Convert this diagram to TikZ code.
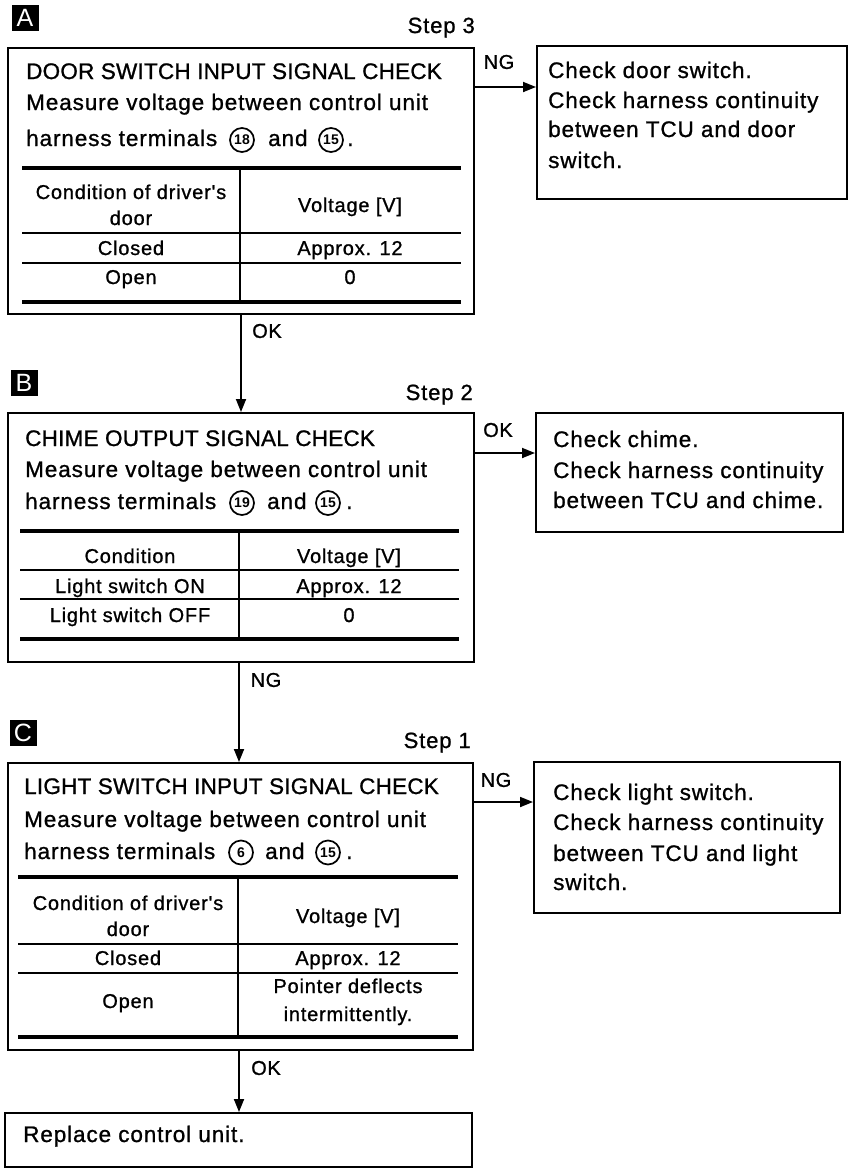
\documentclass[tikz,border=0pt]{standalone}
\usepackage{fontspec}
\setmainfont{Liberation Sans}
\newfontfamily\mainls[LetterSpace=4,FakeBold=1]{Liberation Sans}
\newfontfamily\titls[LetterSpace=1,FakeBold=1]{Liberation Sans}
\newfontfamily\tabls[LetterSpace=4,FakeBold=1]{Liberation Sans}
\newfontfamily\lblls[LetterSpace=3,FakeBold=1]{Liberation Sans}
\usetikzlibrary{arrows.meta}
\tikzset{
  box/.style={draw, line width=2pt, inner sep=0pt, rectangle},
  txt/.style={anchor=base west, inner sep=0pt, font=\mainls\fontsize{22.5}{26}\selectfont},
  titletxt/.style={anchor=base west, inner sep=0pt, font=\titls\fontsize{22.5}{26}\selectfont},
  steplbl/.style={anchor=base east, inner sep=0pt, font=\mainls\fontsize{22}{26}\selectfont},
  tab/.style={anchor=base, inner sep=0pt, font=\tabls\fontsize{20}{22}\selectfont},
  lbl/.style={inner sep=0pt, font=\lblls\fontsize{20}{22}\selectfont},
  cnum/.style={circle, draw, line width=1.7pt, minimum size=24pt, inner sep=0pt, font=\bfseries\fontsize{14}{14}\selectfont},
  markerbox/.style={fill=black, text=white, minimum width=27pt, minimum height=26pt, inner sep=0pt, font=\fontsize{25}{25}\selectfont},
  thickrule/.style={line width=4.5pt},
  thinrule/.style={line width=2pt},
  arr/.style={line width=1.8pt, -{Triangle[length=13pt,width=10pt]}}
}
\begin{document}
\begin{tikzpicture}[x=1pt,y=-1pt]
\useasboundingbox (0,0) rectangle (849,1168);

% ---------- A ----------
\node[markerbox] (mA) at (25,18) {A};
\node[steplbl] (sA) at (475,33) {Step 3};
\node[box, minimum width=466pt, minimum height=266pt] (A) at (241,181) {};
\node[titletxt] (a1) at (26,79) {DOOR SWITCH INPUT SIGNAL CHECK};
\node[txt] (a2) at (26,110) {Measure voltage between control unit};
\node[txt] (a3) at (26,146) {harness terminals};
\node[cnum] (a3c1) at (242,140) {18};
\node[txt] (a3and) at (268,146) {and};
\node[cnum] (a3c2) at (331,140) {15};
\node[txt] (a3dot) at (347,146) {.};
\draw[thickrule] (22,168) -- (461,168);
\draw[thinrule] (22,233) -- (461,233);
\draw[thinrule] (22,263) -- (461,263);
\draw[thickrule] (22,302) -- (461,302);
\draw[thinrule] (240,168) -- (240,302);
\node[tab] (ah1) at (131,199) {Condition of driver's};
\node[tab] (ah2) at (131,225) {door};
\node[tab] (ah3) at (350,212) {Voltage [V]};
\node[tab] (ar1) at (131,255) {Closed};
\node[tab] (ar2) at (350,255) {Approx. 12};
\node[tab] (ar3) at (131,284) {Open};
\node[tab] (ar4) at (350,284) {0};

\node[box, minimum width=310pt, minimum height=153pt] (RA) at (692,122.5) {};
\node[txt] (ra1) at (548,78) {Check door switch.};
\node[txt] (ra2) at (548,108) {Check harness continuity};
\node[txt] (ra3) at (548,137) {between TCU and door};
\node[txt] (ra4) at (548,168) {switch.};
\coordinate (yA) at (0,87);
\draw[arr] (A.east |- yA) -- (RA.west |- yA);
\node[lbl] (ngA) at (499,62) {NG};

% ---------- B ----------
\node[markerbox] (mB) at (24,383) {B};
\node[steplbl] (sB) at (473,400) {Step 2};
\node[box, minimum width=466pt, minimum height=249pt] (B) at (241,537.5) {};
\node[titletxt] (b1) at (25,446) {CHIME OUTPUT SIGNAL CHECK};
\node[txt] (b2) at (25,477) {Measure voltage between control unit};
\node[txt] (b3) at (25,509) {harness terminals};
\node[cnum] (b3c1) at (242,503) {19};
\node[txt] (b3and) at (267,509) {and};
\node[cnum] (b3c2) at (328,503) {15};
\node[txt] (b3dot) at (346,509) {.};
\draw[thickrule] (20,531) -- (459,531);
\draw[thinrule] (20,570) -- (459,570);
\draw[thinrule] (20,599) -- (459,599);
\draw[thickrule] (20,639) -- (459,639);
\draw[thinrule] (239,531) -- (239,639);
\node[tab] (bh1) at (130,563) {Condition};
\node[tab] (bh2) at (349,563) {Voltage [V]};
\node[tab] (br1) at (130,593) {Light switch ON};
\node[tab] (br2) at (349,593) {Approx. 12};
\node[tab] (br3) at (130,622) {Light switch OFF};
\node[tab] (br4) at (349,622) {0};

\node[box, minimum width=307pt, minimum height=119pt] (RB) at (689.5,472.5) {};
\node[txt] (rb1) at (553,447) {Check chime.};
\node[txt] (rb2) at (553,478) {Check harness continuity};
\node[txt] (rb3) at (553,508) {between TCU and chime.};
\coordinate (yB) at (0,453);
\draw[arr] (B.east |- yB) -- (RB.west |- yB);
\node[lbl] (okB) at (498,430) {OK};

\draw[arr] (A.south) -- (B.north);
\node[lbl] (okA) at (267,331) {OK};

% ---------- C ----------
\node[markerbox] (mC) at (23,733) {C};
\node[steplbl] (sC) at (471,748) {Step 1};
\node[box, minimum width=465pt, minimum height=287pt] (C) at (240.5,906.5) {};
\node[titletxt] (c1) at (24,794) {LIGHT SWITCH INPUT SIGNAL CHECK};
\node[txt] (c2) at (24,827) {Measure voltage between control unit};
\node[txt] (c3) at (24,859) {harness terminals};
\node[cnum] (c3c1) at (241,852.5) {6};
\node[txt] (c3and) at (265,859) {and};
\node[cnum] (c3c2) at (328,852.5) {15};
\node[txt] (c3dot) at (346,859) {.};
\draw[thickrule] (18,877) -- (458,877);
\draw[thinrule] (18,944) -- (458,944);
\draw[thinrule] (18,973) -- (458,973);
\draw[thickrule] (18,1037) -- (458,1037);
\draw[thinrule] (238,877) -- (238,1037);
\node[tab] (ch1) at (128,910) {Condition of driver's};
\node[tab] (ch2) at (128,936) {door};
\node[tab] (ch3) at (348,923) {Voltage [V]};
\node[tab] (cr1) at (128,965) {Closed};
\node[tab] (cr2) at (348,965) {Approx. 12};
\node[tab] (cr3) at (128,1008) {Open};
\node[tab] (cr4) at (348,993) {Pointer deflects};
\node[tab] (cr5) at (348,1021) {intermittently.};

\node[box, minimum width=306pt, minimum height=151pt] (RC) at (687,837.5) {};
\node[txt] (rc1) at (553,800) {Check light switch.};
\node[txt] (rc2) at (553,830) {Check harness continuity};
\node[txt] (rc3) at (553,861) {between TCU and light};
\node[txt] (rc4) at (553,890) {switch.};
\coordinate (yC) at (0,802);
\draw[arr] (C.east |- yC) -- (RC.west |- yC);
\node[lbl] (ngC) at (496,780) {NG};

\coordinate (xBC) at (239,0);
\draw[arr] (B.south -| xBC) -- (C.north -| xBC);
\node[lbl] (ngB) at (266,680) {NG};

% ---------- Replace ----------
\node[box, minimum width=467pt, minimum height=54pt] (R) at (238.5,1140) {};
\node[txt] (r1) at (23,1142) {Replace control unit.};
\draw[arr] (C.south -| xBC) -- (R.north -| xBC);
\node[lbl] (okC) at (266,1068) {OK};
\end{tikzpicture}
\end{document}
